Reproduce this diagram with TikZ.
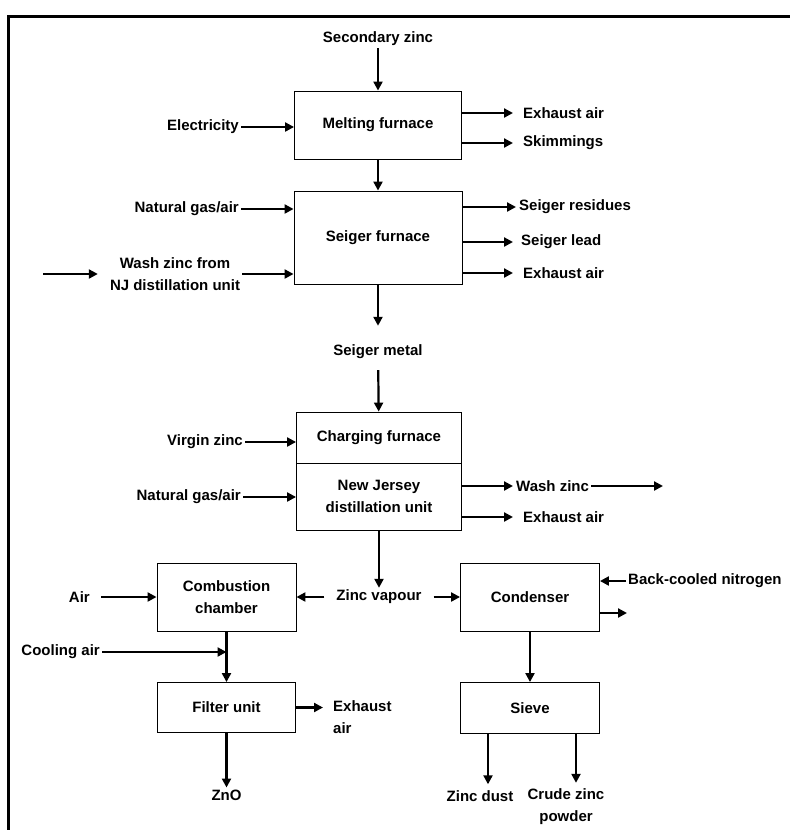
\documentclass[tikz,border=0pt]{standalone}
\usepackage{fontspec}
\setmainfont{Liberation Sans}
\usepackage{tikz}
\usetikzlibrary{arrows.meta}

\begin{document}
\begin{tikzpicture}[
    x=1pt, y=-1pt,
    font=\fontsize{15}{22}\selectfont\bfseries,
    unit/.style={draw, line width=0.9pt, inner sep=0pt, align=center},
    lbl/.style={inner sep=2pt, align=center},
    flow/.style={line width=2.2pt, -{Triangle[length=9pt, width=9pt]}},
    outflow/.style={flow, shorten >=8pt},
    frame/.style={line width=2.8pt},
]
\useasboundingbox (0, 0) rectangle (790, 830);

% Frame (top and left edge)
\draw[frame] (8.5, 830) -- (8.5, 16.5) -- (790, 16.5);

% Process units
\node[unit, minimum width=167pt, minimum height=68pt] (melt) at (378, 125) {Melting furnace};
\node[unit, minimum width=168pt, minimum height=93pt] (seiger) at (378, 237.5) {Seiger furnace};
\node[unit, minimum width=165pt, minimum height=51pt] (charge) at (379, 437.5) {Charging furnace};
\node[unit, minimum width=165pt, minimum height=67pt] (nju) at (379, 496.5) {New Jersey\\distillation unit};
\node[unit, minimum width=139pt, minimum height=68pt] (comb) at (226.5, 597) {Combustion\\chamber};
\node[unit, minimum width=138pt, minimum height=50pt] (filter) at (226.5, 707.5) {Filter unit};
\node[unit, minimum width=139pt, minimum height=68pt] (cond) at (530, 597.5) {Condenser};
\node[unit, minimum width=139pt, minimum height=51pt] (sieve) at (530, 708) {Sieve};

% Inputs
\node[lbl] (seczinc) at (378, 39) {Secondary zinc};
\node[lbl, anchor=east] (elec) at (241, 127) {Electricity};
\node[lbl, anchor=east] (ng1) at (241, 209) {Natural gas/air};
\node[lbl] (wash) at (175, 274) {Wash zinc from\\NJ distillation unit};
\coordinate (washsrc) at (43, 274);
\node[lbl] (smetal) at (378, 352) {Seiger metal};
\node[lbl, anchor=east] (virgin) at (245, 442) {Virgin zinc};
\node[lbl, anchor=east] (ng2) at (243, 497) {Natural gas/air};
\node[lbl] (zv) at (379, 597) {Zinc vapour};
\node[lbl, anchor=east] (air) at (92, 597) {Air};
\node[lbl, anchor=east] (cool) at (102, 652) {Cooling air};
\node[lbl, anchor=west] (backn) at (626, 581) {Back-cooled nitrogen};

% Outputs
\node[lbl, anchor=west] (exh1) at (521, 113) {Exhaust air};
\node[lbl, anchor=west] (skim) at (521, 143) {Skimmings};
\node[lbl, anchor=west] (sres) at (517, 207) {Seiger residues};
\node[lbl, anchor=west] (slead) at (519, 242) {Seiger lead};
\node[lbl, anchor=west] (exh2) at (521, 273) {Exhaust air};
\node[lbl, anchor=west] (wzinc) at (514, 486) {Wash zinc};
\coordinate (wzout) at (663, 486);
\node[lbl, anchor=west] (exh3) at (521, 517) {Exhaust air};
\node[lbl, anchor=west, align=left] (exh4) at (331, 717) {Exhaust\\air};
\coordinate (condout) at (627, 613);
\node[lbl] (zno) at (226.5, 795) {ZnO};
\node[lbl] (zdust) at (480, 796) {Zinc dust};
\node[lbl] (crude) at (566, 807) {Crude zinc\\powder};

% Main line
\draw[flow] (seczinc) -- (melt);
\draw[flow] (melt) -- (seiger);
\draw[flow, shorten >=17pt] (seiger) -- (smetal);
\draw[flow, shorten <=9pt] (smetal) -- (charge);
\draw[flow] (nju) -- (zv);
\draw[flow, shorten <=10pt] (zv) -- (comb);
\draw[flow, shorten <=10pt] (zv.east) -- (zv.east -| cond.west);

% Feeds into the furnaces
\draw[flow] (elec) -- (elec -| melt.west);
\draw[flow] (ng1) -- (ng1 -| seiger.west);
\draw[flow, shorten >=10pt] (washsrc) -- (wash);
\draw[flow] (wash.east) -- (wash.east -| seiger.west);
\draw[flow] (virgin) -- (virgin -| charge.west);
\draw[flow] (ng2) -- (ng2 -| nju.west);

% Furnace outputs
\draw[outflow] (exh1 -| melt.east) -- (exh1);
\draw[outflow] (skim -| melt.east) -- (skim);
\draw[flow, shorten >=1pt] (sres -| seiger.east) -- (sres);
\draw[flow, shorten >=6pt] (slead -| seiger.east) -- (slead);
\draw[outflow] (exh2 -| seiger.east) -- (exh2);
\draw[flow, shorten >=1pt] (wzinc -| nju.east) -- (wzinc);
\draw[flow] (wzinc) -- (wzout);
\draw[outflow] (exh3 -| nju.east) -- (exh3);

% Zinc oxide branch
\draw[flow, shorten <=9pt] (air) -- (comb);
\draw[flow] (cool) -- (cool -| comb);
\draw[flow] (comb) -- (filter);
\draw[flow] (filter) -- (zno);
\draw[outflow] (filter.east) -- (filter.east -| exh4.west);

% Zinc dust branch
\draw[flow] (backn) -- (backn -| cond.east);
\draw[flow] (condout -| cond.east) -- (condout);
\draw[flow] (cond) -- (sieve);
\draw[flow, shorten >=4pt] ([xshift=-42pt]sieve.south) coordinate (sd) -- (sd |- zdust.north);
\draw[flow, shorten >=4pt] ([xshift=46pt]sieve.south) coordinate (sc) -- (sc |- crude.north);

\end{tikzpicture}
\end{document}
